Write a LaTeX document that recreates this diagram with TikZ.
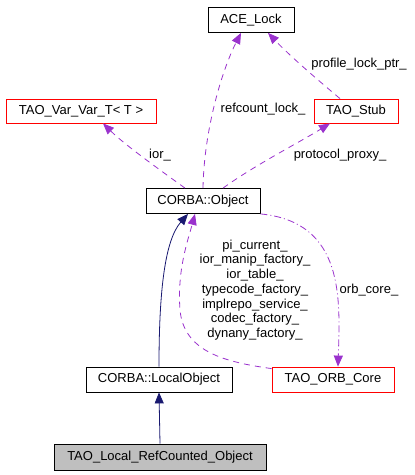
\documentclass[tikz,border=0pt]{standalone}
\usepackage{fontspec}
\setmainfont{Liberation Sans}
\usetikzlibrary{arrows.meta}
\definecolor{dep}{HTML}{9A32CD}
\definecolor{inh}{HTML}{191970}
\definecolor{grayfill}{HTML}{BFBFBF}
\tikzset{
  box/.style={draw=black, line width=0.8pt, minimum height=25pt, inner sep=0pt, font=\fontsize{13}{15}\selectfont},
  redbox/.style={box, draw=red},
  deparrow/.style={draw=dep, line width=0.8pt, dash pattern=on 6pt off 5pt, -{Triangle[length=11pt,width=9pt]}, dep},
  dotarrow/.style={draw=dep, line width=0.8pt, dash pattern=on 7pt off 3pt on 1pt off 3pt, -{Triangle[length=11pt,width=9pt]}, dep},
  inharrow/.style={draw=inh, line width=0.8pt, -{Triangle[length=11pt,width=9pt]}, inh},
  lbl/.style={font=\fontsize{13}{14.7}\selectfont, inner sep=0pt, align=center}
}
\begin{document}
\begin{tikzpicture}[x=1pt,y=-1pt]
\useasboundingbox (0,0) rectangle (415,475);
\node[box, minimum width=86pt] (ace) at (251,20) {ACE\_Lock};
\node[redbox, minimum width=150pt, minimum height=24pt] (var) at (81,111) {TAO\_Var\_Var\_T< T >};
\node[redbox, minimum width=84pt, minimum height=24pt] (stub) at (356,111) {TAO\_Stub};
\node[box, minimum width=114pt] (obj) at (203,201) {CORBA::Object};
\node[box, minimum width=146pt] (local) at (159,379.5) {CORBA::LocalObject};
\node[redbox, minimum width=122pt] (orb) at (333,379.5) {TAO\_ORB\_Core};
\node[box, fill=grayfill, minimum width=212pt, minimum height=26pt] (ref) at (160,457) {TAO\_Local\_RefCounted\_Object};

% dependencies
\draw[deparrow] (obj.north) .. controls (204,130) and (222,70) .. ([xshift=-10pt]ace.south);
\draw[deparrow] ([xshift=-16pt]stub.north) .. controls (318,80) and (292,58) .. ([xshift=17pt]ace.south);
\draw[deparrow] ([xshift=-18pt]obj.north) .. controls (160,170) and (125,145) .. ([xshift=22pt]var.south);
\draw[deparrow] ([xshift=20pt]obj.north) .. controls (255,165) and (300,142) .. ([xshift=-26pt]stub.south);
\draw[dotarrow] (obj.south east) .. controls (345,222) and (340,300) .. ([xshift=5pt]orb.north);
\draw[deparrow] ([yshift=-2pt]orb.north west) .. controls (225,362) and (184,352) .. (180,310) .. controls (177,270) and (188,240) .. ([xshift=-8pt]obj.south);
% inheritance
\draw[inharrow] (local.north) .. controls (159,290) and (165,240) .. ([xshift=-15pt]obj.south);
\draw[inharrow] (ref.north) -- (local.south);

% labels
\node[lbl] (l1) at (263,109) {refcount\_lock\_};
\node[lbl] (l2) at (359,64) {profile\_lock\_ptr\_};
\node[lbl] (l3) at (160,155) {ior\_};
\node[lbl] (l4) at (340,155) {protocol\_proxy\_};
\node[lbl] (l5) at (369,290) {orb\_core\_};
\node[lbl] (l6) at (255,290) {pi\_current\_\\ior\_manip\_factory\_\\ior\_table\_\\typecode\_factory\_\\implrepo\_service\_\\codec\_factory\_\\dynany\_factory\_};
\end{tikzpicture}
\end{document}
